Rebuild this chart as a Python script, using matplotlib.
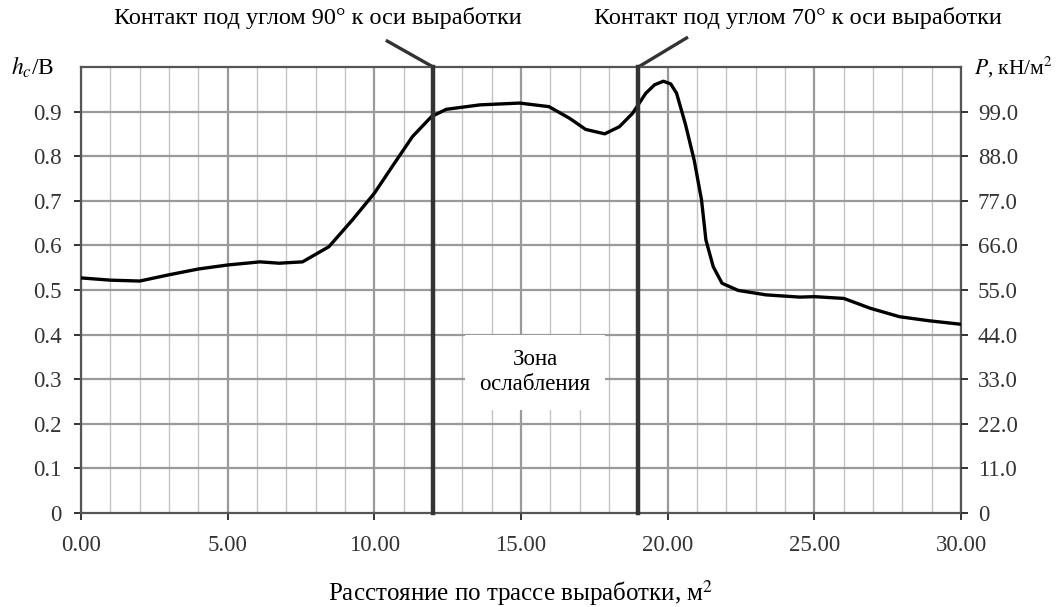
"""
Профиль h_c/B вдоль трассы выработки
"""

import matplotlib.pyplot as plt
import numpy as np


# =============================================================================
# DATA
# =============================================================================

# Расстояние по трассе, м
dist = [0.0, 1.0, 2.0, 3.0, 4.0, 5.0, 6.1, 6.75, 7.55, 8.45, 9.25, 10.0,
        10.6, 11.3, 11.95, 12.45, 13.6, 14.95, 15.95, 16.65, 17.2, 17.85,
        18.35, 18.8, 19.25, 19.55, 19.85, 20.1, 20.3, 20.6, 20.9, 21.15,
        21.3, 21.55, 21.85, 22.4, 23.35, 24.5, 25.0, 26.0, 26.9, 27.9,
        28.9, 30.0]
# h_c/B
hc_b = [0.527, 0.522, 0.520, 0.534, 0.547, 0.556, 0.563, 0.560, 0.563,
        0.597, 0.657, 0.717, 0.776, 0.844, 0.889, 0.905, 0.915, 0.919,
        0.911, 0.885, 0.860, 0.850, 0.866, 0.896, 0.941, 0.960, 0.968,
        0.962, 0.941, 0.872, 0.791, 0.702, 0.612, 0.552, 0.515, 0.499,
        0.489, 0.484, 0.485, 0.481, 0.459, 0.440, 0.431, 0.423]

contacts = [12.0, 19.0]
contact_labels = ['Контакт под углом 90° к оси выработки',
                  'Контакт под углом 70° к оси выработки']

left_ticks = [0.0, 0.1, 0.2, 0.3, 0.4, 0.5, 0.6, 0.7, 0.8, 0.9]
left_labels = ['0', '0.1', '0.2', '0.3', '0.4', '0.5', '0.6', '0.7', '0.8', '0.9']
right_labels = ['0', '11.0', '22.0', '33.0', '44.0', '55.0', '66.0', '77.0',
                '88.0', '99.0']
x_ticks = [0, 5, 10, 15, 20, 25, 30]
x_labels = ['0.00', '5.00', '10.00', '15.00', '20.00', '25.00', '30.00']


# =============================================================================
# PLOT
# =============================================================================

plt.rcParams['font.family'] = ['Liberation Serif', 'DejaVu Serif']
plt.rcParams['mathtext.fontset'] = 'stix'

fig = plt.figure(figsize=(10.63, 6.07), dpi=100)
ax = fig.add_axes([0.0762, 0.1549, 0.828, 0.7348])

ax.set_xlim(0, 30)
ax.set_ylim(0, 1.0)

# Сетка
for xv in range(0, 31):
    if xv % 5 == 0:
        ax.axvline(xv, color='#9a9a9a', lw=1.6, zorder=1)
    else:
        ax.axvline(xv, color='#c4c4c4', lw=1.0, zorder=1)
for yv in np.arange(0.1, 1.0, 0.1):
    ax.axhline(yv, color='#9a9a9a', lw=1.6, zorder=1)

# Кривая
ax.plot(dist, hc_b, color='black', lw=2.4, zorder=4,
        solid_capstyle='round', solid_joinstyle='round')

# Контакты
for xc in contacts:
    ax.plot([xc, xc], [0, 1.0], color='#333333', lw=3.2, zorder=5,
            clip_on=False)
ax.plot([10.44, 12.0], [1.058, 1.0], color='#333333', lw=2.4, clip_on=False)
ax.plot([19.0, 20.64], [1.0, 1.065], color='#333333', lw=2.4, clip_on=False)

fig.text(318/1063, 1-18/607, contact_labels[0], fontsize=17.5,
         ha='center', va='center')
fig.text(798/1063, 1-18/607, contact_labels[1], fontsize=17.5,
         ha='center', va='center')

# Зона ослабления
ax.text(15.48, 0.315, 'Зона\nослабления', fontsize=16.5, ha='center',
        va='center', linespacing=1.25, zorder=6,
        bbox=dict(facecolor='white', edgecolor='none',
                  boxstyle='square,pad=0.62'))

# Оси
for s in ax.spines.values():
    s.set_color('#555555')
    s.set_linewidth(1.6)
    s.set_zorder(3)

ax.set_yticks(left_ticks)
ax.set_yticklabels(left_labels)
ax.set_xticks(x_ticks)
ax.set_xticklabels(x_labels)
ax.tick_params(axis='both', labelsize=16.5, colors='#333333', length=5,
               width=1.4, direction='out')
ax.tick_params(axis='y', pad=9)
ax.tick_params(axis='x', pad=11)

ax2 = ax.twinx()
ax2.set_ylim(0, 1.0)
ax2.set_yticks(left_ticks)
ax2.set_yticklabels(right_labels)
ax2.tick_params(axis='y', labelsize=16.5, colors='#333333', length=5,
                width=1.4, direction='out', pad=7)
for s in ax2.spines.values():
    s.set_visible(False)

ax.set_xlabel('Расстояние по трассе выработки, м$^2$', fontsize=18,
              labelpad=16)

ax.text(-0.08, 1.0, r'$h_c$/B', transform=ax.transAxes, fontsize=17,
        ha='left', va='center')
ax.text(1.015, 1.0, r'$P$, кН/м$^2$', transform=ax.transAxes, fontsize=15.5,
        ha='left', va='center')

plt.savefig('out.png', dpi=100)
plt.close()
